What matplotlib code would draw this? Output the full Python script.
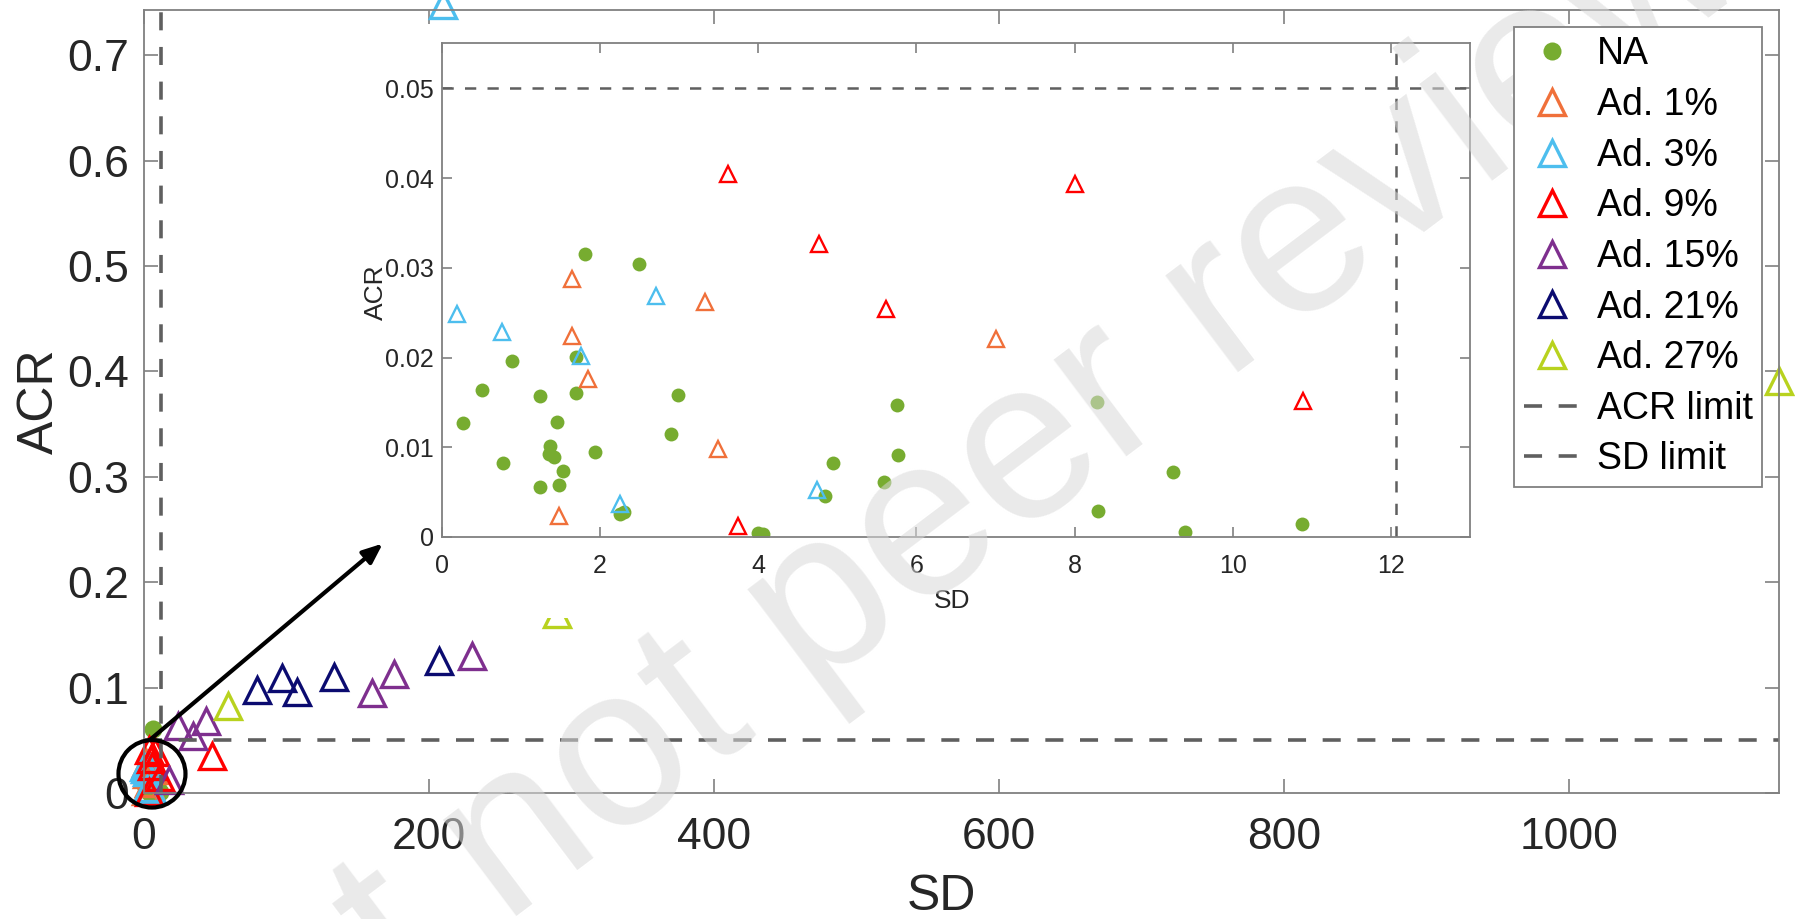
import matplotlib

matplotlib.use("Agg")
from matplotlib import pyplot as plt
from matplotlib.patches import Ellipse, FancyArrowPatch, Rectangle

plt.rcParams["font.family"] = ["Liberation Sans", "DejaVu Sans"]

# data (SD, ACR)
na_sd = [0.26, 0.50, 0.77, 0.88, 1.24, 1.24, 1.46, 1.37, 1.35, 1.42, 1.53, 1.48, 1.70, 1.70,
         1.93, 2.25, 2.30, 2.89, 2.99, 4.00, 4.06, 4.84, 4.94, 5.59, 5.75, 5.77, 1.81, 2.49,
         8.28, 9.25, 8.29, 9.39, 10.88, 6.5]
na_acr = [0.0127, 0.0164, 0.0082, 0.0196, 0.0157, 0.0056, 0.0128, 0.0101, 0.0092, 0.0089,
          0.0074, 0.0058, 0.0161, 0.0201, 0.0095, 0.0026, 0.0028, 0.0115, 0.0158, 0.0005,
          0.0003, 0.0046, 0.0083, 0.0061, 0.0147, 0.0091, 0.0315, 0.0304, 0.0150, 0.0072,
          0.0029, 0.0006, 0.0014, 0.061]
ad1_sd = [1.64, 1.85, 1.48, 3.49, 1.65, 3.32, 7.0]
ad1_acr = [0.0224, 0.0176, 0.0023, 0.0098, 0.0287, 0.0262, 0.0221]
ad3_sd = [0.195, 0.758, 1.756, 2.25, 4.74, 2.70, 210]
ad3_acr = [0.0249, 0.0228, 0.0202, 0.0037, 0.0052, 0.0269, 0.748]
ad9_sd = [3.74, 3.62, 4.77, 5.62, 8.0, 10.89, 47.9]
ad9_acr = [0.0012, 0.0405, 0.0327, 0.0254, 0.0393, 0.0152, 0.035]
ad15_sd = [17.5, 24, 34.6, 43.3, 160, 175.4, 230.4]
ad15_acr = [0.0125, 0.064, 0.054, 0.068, 0.095, 0.113, 0.130]
ad21_sd = [79.4, 96.5, 107, 133.2, 207.3]
ad21_acr = [0.098, 0.109, 0.096, 0.110, 0.125]
ad27_sd = [59.1, 290, 1147]
ad27_acr = [0.083, 0.170, 0.391]

series = [
    ("NA", na_sd, na_acr, "#77AC30"),
    ("Ad. 1%", ad1_sd, ad1_acr, "#F0703A"),
    ("Ad. 3%", ad3_sd, ad3_acr, "#4DBEEE"),
    ("Ad. 9%", ad9_sd, ad9_acr, "#FF0000"),
    ("Ad. 15%", ad15_sd, ad15_acr, "#7E2F8E"),
    ("Ad. 21%", ad21_sd, ad21_acr, "#0B0B70"),
    ("Ad. 27%", ad27_sd, ad27_acr, "#B8D21E"),
]
ACR_LIMIT = 0.05
SD_LIMIT = 12.07
main_xticks = [0, 200, 400, 600, 800, 1000]
main_yticks = [0, 0.1, 0.2, 0.3, 0.4, 0.5, 0.6, 0.7]
inset_xticks = [0, 2, 4, 6, 8, 10, 12]
inset_yticks = [0, 0.01, 0.02, 0.03, 0.04, 0.05]

W, H = 1795, 919
AXIS_GREY = "#808080"
TEXT = "#262626"
LIMIT_GREY = "#5f5f5f"


def frac(x0, y0, x1, y1):
    # pixel box (top-left origin) -> figure fraction rect
    return [x0 / W, 1 - y1 / H, (x1 - x0) / W, (y1 - y0) / H]


def style_axis(axis, size, pad, ticklen):
    for spine in axis.spines.values():
        spine.set_color(AXIS_GREY)
        spine.set_linewidth(1.3)
    axis.tick_params(direction="in", top=True, right=True, length=ticklen, width=1.2,
                     color=AXIS_GREY, labelcolor=TEXT, labelsize=size, pad=pad)


def fmt(values):
    return [f"{v:g}" for v in values]


fig = plt.figure(figsize=(W / 100, H / 100), dpi=100)
ax = fig.add_axes(frac(144, 10, 1779, 793))

for name, sd, acr, color in series:
    if name == "NA":
        ax.plot(sd, acr, linestyle="none", marker="o", ms=13, mfc=color, mec="none",
                label=name, clip_on=False)
    else:
        ax.plot(sd, acr, linestyle="none", marker="^", ms=19, mfc="none", mec=color,
                mew=2.4, label=name, clip_on=False)
ax.axhline(ACR_LIMIT, color=LIMIT_GREY, lw=2.6, dashes=(5, 4.6), label="ACR limit")
ax.axvline(SD_LIMIT, color=LIMIT_GREY, lw=2.6, dashes=(5, 4.6), label="SD limit")
ax.set_xlim(0, 1147)
ax.set_ylim(0, 0.743)
ax.set_xticks(main_xticks, fmt(main_xticks))
ax.set_yticks(main_yticks, fmt(main_yticks))
style_axis(ax, 32, 17, 10)
ax.tick_params(axis="y", pad=11)
ax.set_xlabel("SD", fontsize=36, color=TEXT, va="center")
ax.set_ylabel("ACR", fontsize=36, color=TEXT, va="center")
ax.xaxis.set_label_coords(0.4875, -0.133)
ax.yaxis.set_label_coords(-0.0636, 0.5)

# white backdrop of the pasted inset (hides what lies under it)
fig.add_artist(Rectangle((395 / W, 1 - 618 / H), 1085 / W, 588 / H, transform=fig.transFigure,
                         facecolor="white", edgecolor="none", zorder=1))

inset = fig.add_axes(frac(442, 43.5, 1470, 537), zorder=2)
for name, sd, acr, color in series:
    if name == "NA":
        inset.plot(sd, acr, linestyle="none", marker="o", ms=10, mfc=color, mec="none")
    else:
        inset.plot(sd, acr, linestyle="none", marker="^", ms=12, mfc="none", mec=color, mew=1.7)
inset.axhline(ACR_LIMIT, color=LIMIT_GREY, lw=1.8, dashes=(4.5, 4.5))
inset.axvline(SD_LIMIT, color=LIMIT_GREY, lw=1.8, dashes=(4.5, 4.5))
inset.set_xlim(0, 13)
inset.set_ylim(0, 0.055)
inset.set_xticks(inset_xticks, fmt(inset_xticks))
inset.set_yticks(inset_yticks, fmt(inset_yticks))
style_axis(inset, 18, 6, 7)
inset.tick_params(axis="x", pad=12)
inset.set_xlabel("SD", fontsize=19, color=TEXT, va="center")
inset.set_ylabel("ACR", fontsize=19, color=TEXT, va="center")
inset.xaxis.set_label_coords(0.496, -0.13)
inset.yaxis.set_label_coords(-0.064, 0.496)

# zoom marker: circle round the cluster and arrow to the inset
fig.add_artist(Ellipse((5.6, 0.0182), width=47, height=0.064, transform=ax.transData,
                       facecolor="none", edgecolor="black", lw=3, zorder=3))
fig.add_artist(FancyArrowPatch((4.2, 0.0505), (167.5, 0.2367), transform=ax.transData,
                               arrowstyle="-|>,head_length=12,head_width=5", color="black",
                               lw=3, shrinkA=0, shrinkB=0, zorder=3))

fig.text(850 / W, 1 - 590 / H, "Preprint not peer reviewed", rotation=37, fontsize=165,
         color="#d9d9d9", alpha=0.55, ha="center", va="center", zorder=4)

handles, labels = ax.get_legend_handles_labels()
legend = fig.legend(handles, labels, loc="upper right", bbox_to_anchor=(1762 / W, 1 - 27 / H),
                    fontsize=27, frameon=True, fancybox=False, framealpha=1, edgecolor=AXIS_GREY,
                    labelspacing=0.39, handlelength=1.5, handletextpad=0.45, borderpad=0.25,
                    borderaxespad=0)
legend.get_frame().set_linewidth(1.3)
legend.set_zorder(5)
for text in legend.get_texts():
    text.set_color("black")

fig.savefig("out.png", dpi=100)
